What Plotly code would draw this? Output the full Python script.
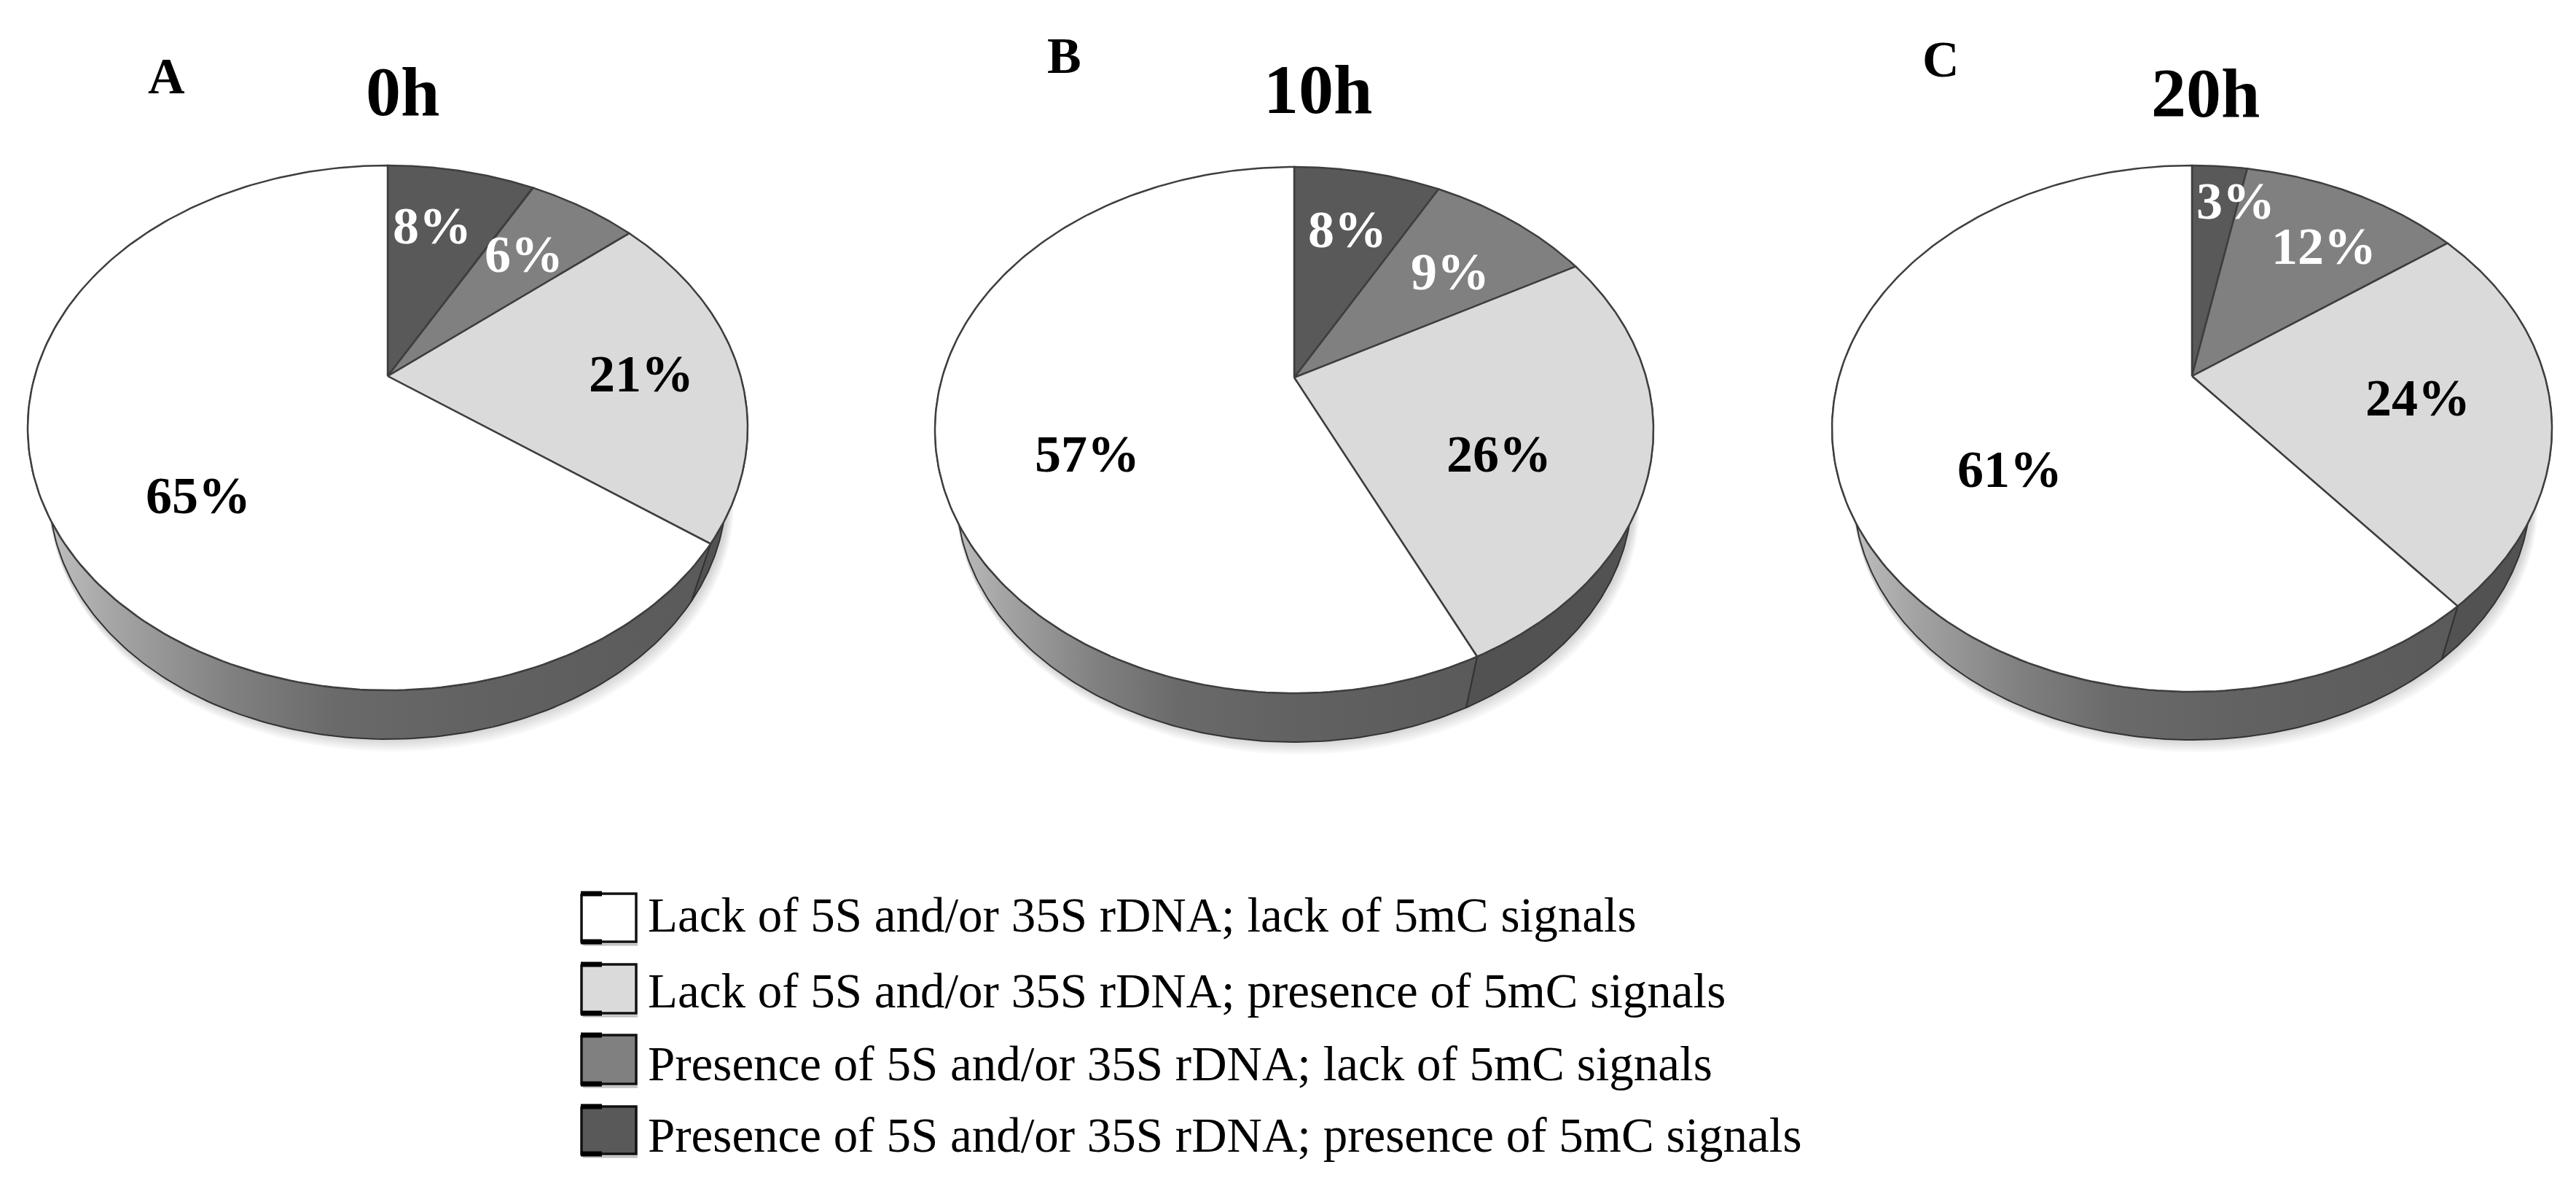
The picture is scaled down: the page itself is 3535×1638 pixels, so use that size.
import numpy as np
import plotly.graph_objects as go

# ---------- data ----------
categories = [
    "Presence of 5S and/or 35S rDNA; presence of 5mC signals",
    "Presence of 5S and/or 35S rDNA; lack of 5mC signals",
    "Lack of 5S and/or 35S rDNA; presence of 5mC signals",
    "Lack of 5S and/or 35S rDNA; lack of 5mC signals",
]
legend_order = [3, 2, 1, 0]
titles = ["0h", "10h", "20h"]
panels = ["A", "B", "C"]
values_0h = [8, 6, 21, 65]
values_10h = [8, 9, 26, 57]
values_20h = [3, 12, 24, 61]
all_values = [values_0h, values_10h, values_20h]

# ---------- style and layout ----------
W, H = 3535, 1638
FONT = "Liberation Serif"
slice_colors = ["#595959", "#808080", "#dadada", "#ffffff"]
label_colors = ["#ffffff", "#ffffff", "#000000", "#000000"]
# cx, apex y, top y, bottom y, half-width, rim depth
geometry = [
    (532, 516, 227, 947, 494, 67),
    (1776, 518, 229, 951, 493, 67),
    (3008, 516, 227, 949, 494, 66),
]
label_xy = [
    [(593, 310), (719, 349), (880, 513), (272, 680)],
    [(1849, 315), (1990, 373), (2057, 623), (1492, 623)],
    [(3068, 276), (3189, 338), (3318, 546), (2758, 644)],
]
title_xy = [(552, 125), (1808, 122), (3026, 127)]
panel_xy = [(228, 104), (1460, 76), (2663, 81)]
legend_rows = [(1226, 1292, 1255), (1323, 1390, 1359), (1420, 1487, 1459), (1518, 1583, 1557)]
SW_L, SW_R, LEG_X = 798, 873, 887
RIM_SCALE = 0.94
rim_gradient = [[0, "#c8c8c8"], [0.12, "#a6a6a6"], [0.3, "#808080"], [0.45, "#6a6a6a"],
                [0.65, "#626262"], [1, "#5a5a5a"]]


def projector(cx, apex, top, bottom, a):
    up, dn = apex - top, bottom - apex
    p = (dn - up) / (dn + up)
    k = up * (1 + p)
    k2 = a * np.sqrt(1 - p * p)

    def f(theta):
        u, v = np.sin(theta), np.cos(theta)
        d = 1 + p * v
        return cx + k2 * u / d, apex - k * v / d
    return f


fig = go.Figure()
annotations = []


def text(x, y, s, size, color="#000000", bold=True, anchor="center"):
    annotations.append(dict(
        x=x, y=y, xref="x", yref="y", text=f"<b>{s}</b>" if bold else s, showarrow=False,
        xanchor=anchor, yanchor="middle",
        font=dict(family=FONT, size=size, color=color),
    ))


def poly(x, y, **kw):
    fig.add_trace(go.Scatter(x=x, y=y, mode="lines", fill="toself", hoverinfo="skip",
                             showlegend=False, **kw))


for idx, values in enumerate(all_values):
    cx, apex, top, bottom, a, depth = geometry[idx]
    f = projector(cx, apex, top, bottom, a)
    cy = (top + bottom) / 2

    def lower(x, y):
        lower_bottom = bottom + depth
        b = (bottom - top) / 2 * RIM_SCALE
        return cx + (x - cx) * RIM_SCALE, lower_bottom - b + (y - cy) * RIM_SCALE

    # soft shadow beneath the disc
    tt = np.linspace(0, 2 * np.pi, 241)
    lx, ly = lower(*f(tt))
    for off in range(2, 20, 3):
        poly((lx - cx) * 1.008 + cx + off * 0.4, ly + off, line=dict(width=0),
             fillcolor="rgba(0,0,0,0.028)")

    edges = np.deg2rad(np.concatenate([[0], np.cumsum(values)]) / sum(values) * 360)

    # side wall
    front_lo, front_hi = np.deg2rad(70), np.deg2rad(290)
    for i in range(len(values)):
        lo, hi = max(edges[i], front_lo), min(edges[i + 1], front_hi)
        if hi <= lo:
            continue
        t = np.linspace(lo, hi, 160)
        ux, uy = f(t)
        dx, dy = lower(ux, uy)
        px = np.concatenate([ux, dx[::-1], ux[:1]])
        py = np.concatenate([uy, dy[::-1], uy[:1]])
        if i == len(values) - 1:
            poly(px, py, line=dict(color="#333333", width=2),
                 fillgradient=dict(type="horizontal", colorscale=rim_gradient))
        else:
            poly(px, py, line=dict(color="#333333", width=2), fillcolor="#525252")

    # top face
    for i, val in enumerate(values):
        t = np.linspace(edges[i], edges[i + 1], 200)
        ux, uy = f(t)
        poly(np.concatenate([[cx], ux, [cx]]), np.concatenate([[apex], uy, [apex]]),
             line=dict(color="#3e3e3e", width=2.5), fillcolor=slice_colors[i],
             name=categories[i])
        lab_x, lab_y = label_xy[idx][i]
        text(lab_x, lab_y, f"{val}%", 72, label_colors[i])

    text(*title_xy[idx], titles[idx], 96)
    text(*panel_xy[idx], panels[idx], 70)

# legend
for row, cat_i in enumerate(legend_order):
    y0, y1, ty = legend_rows[row]
    poly([SW_L + 2, SW_R + 2, SW_R + 2], [y1 + 4, y1 + 4, y1 + 4], line=dict(color="#c0c0c0", width=3))
    poly([SW_L, SW_R, SW_R, SW_L, SW_L], [y0, y0, y1, y1, y0],
         line=dict(color="#111111", width=3.5), fillcolor=slice_colors[cat_i])
    for yy in (y0, y1):
        fig.add_trace(go.Scatter(x=[SW_L - 1, SW_L + 28], y=[yy, yy], mode="lines", hoverinfo="skip",
                                 showlegend=False, line=dict(color="#000000", width=7)))
    text(LEG_X, ty, categories[cat_i], 67, bold=False, anchor="left")

fig.update_layout(
    width=W, height=H, margin=dict(l=0, r=0, t=0, b=0),
    paper_bgcolor="white", plot_bgcolor="white", showlegend=False,
    xaxis=dict(range=[0, W], visible=False, fixedrange=True),
    yaxis=dict(range=[H, 0], visible=False, fixedrange=True),
    annotations=annotations,
)
fig.write_html("out.html", config={"displayModeBar": False},
               post_script="document.body.style.margin='0';document.body.style.overflow='hidden';")
